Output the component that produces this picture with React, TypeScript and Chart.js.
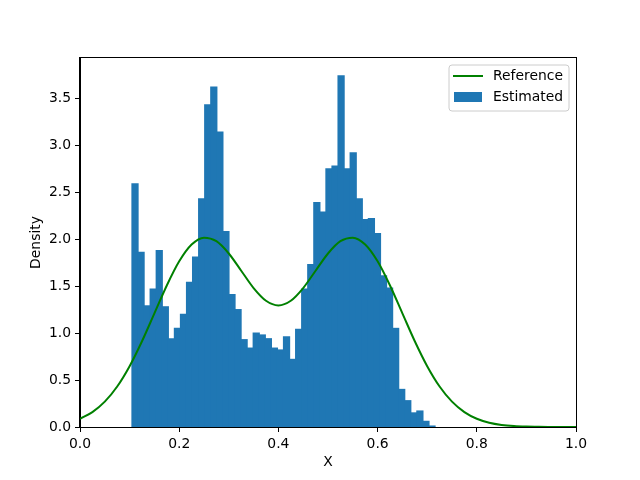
import React, { useEffect, useRef } from "react";
import { Chart, registerables } from "chart.js";

Chart.register(...registerables);

// Histogram bins (50 equal-width bins)
const binStart = 0.1048;
const binWidth = 0.01222;
const densityValues = [
  2.59, 1.86, 1.29, 1.47, 1.88, 1.28, 0.94, 1.05, 1.2, 1.54,
  1.81, 2.43, 3.43, 3.62, 3.14, 2.08, 1.41, 1.25, 0.93, 0.84,
  1.0, 0.98, 0.94, 0.84, 0.82, 0.96, 0.72, 1.04, 1.47, 1.73,
  2.39, 2.29, 2.75, 2.78, 3.74, 2.75, 2.92, 2.43, 2.21, 2.22,
  2.06, 1.61, 1.48, 1.05, 0.4, 0.28, 0.15, 0.17, 0.06, 0.01,
];

// Reference density curve samples
const refX = [
  0.0, 0.025, 0.05, 0.075, 0.1, 0.125, 0.15, 0.175, 0.2, 0.225,
  0.25, 0.275, 0.3, 0.325, 0.35, 0.375, 0.4, 0.425, 0.45, 0.475,
  0.5, 0.525, 0.55, 0.575, 0.6, 0.625, 0.65, 0.675, 0.7, 0.725,
  0.75, 0.775, 0.8, 0.825, 0.85, 0.875, 0.9, 0.925, 0.95, 0.975, 1.0,
];
const refY = [
  0.0876, 0.1587, 0.27, 0.4314, 0.6477, 0.9135, 1.2105, 1.5075, 1.7647, 1.9435,
  2.0169, 1.9788, 1.848, 1.6644, 1.4798, 1.3446, 1.2952, 1.3446, 1.4798, 1.6644,
  1.848, 1.9788, 2.0169, 1.9435, 1.7647, 1.5075, 1.2105, 0.9135, 0.6477, 0.4314,
  0.27, 0.1587, 0.0876, 0.0455, 0.0222, 0.0101, 0.0044, 0.0018, 0.0007, 0.0002, 0.0001,
];

const xTickStep = 0.2;
const yTickStep = 0.5;

const FONT = "DejaVu Sans";
const FS = 13.9;

const decorPlugin = {
  id: "decor",
  afterDraw(chart: any) {
    const { ctx, chartArea } = chart;
    const { left, right, top, bottom } = chartArea;
    ctx.save();
    // frame
    ctx.strokeStyle = "#000";
    ctx.lineWidth = 1;
    ctx.strokeRect(Math.round(left) - 0.5, Math.round(top) - 0.5, Math.round(right - left) + 1, Math.round(bottom - top) + 1);
    // axis titles
    ctx.fillStyle = "#000";
    ctx.font = `${FS}px "${FONT}"`;
    ctx.textAlign = "center";
    ctx.textBaseline = "middle";
    ctx.fillText("X", (left + right) / 2, 462);
    ctx.save();
    ctx.translate(36, (top + bottom) / 2);
    ctx.rotate(-Math.PI / 2);
    ctx.fillText("Density", 0, 0);
    ctx.restore();
    // legend
    const bx = 449, by = 65, bw = 120, bh = 46, r = 3;
    ctx.beginPath();
    ctx.moveTo(bx + r, by);
    ctx.lineTo(bx + bw - r, by);
    ctx.quadraticCurveTo(bx + bw, by, bx + bw, by + r);
    ctx.lineTo(bx + bw, by + bh - r);
    ctx.quadraticCurveTo(bx + bw, by + bh, bx + bw - r, by + bh);
    ctx.lineTo(bx + r, by + bh);
    ctx.quadraticCurveTo(bx, by + bh, bx, by + bh - r);
    ctx.lineTo(bx, by + r);
    ctx.quadraticCurveTo(bx, by, bx + r, by);
    ctx.closePath();
    ctx.fillStyle = "rgba(255,255,255,0.8)";
    ctx.fill();
    ctx.strokeStyle = "#cccccc";
    ctx.lineWidth = 1;
    ctx.stroke();
    ctx.strokeStyle = "#008000";
    ctx.lineWidth = 2;
    ctx.beginPath();
    ctx.moveTo(453, 76);
    ctx.lineTo(483, 76);
    ctx.stroke();
    ctx.fillStyle = "#1f77b4";
    ctx.fillRect(454, 92, 28, 10);
    ctx.fillStyle = "#000";
    ctx.textAlign = "left";
    ctx.fillText("Reference", 493, 76);
    ctx.fillText("Estimated", 493, 97);
    ctx.restore();
  },
};

export default function App() {
  const ref = useRef<HTMLCanvasElement | null>(null);
  useEffect(() => {
    if (!ref.current) return;
    const barData = densityValues.map((y, i) => ({ x: binStart + binWidth * (i + 0.5), y }));
    const lineData = refX.map((x, i) => ({ x, y: refY[i] }));
    const chart = new Chart(ref.current, {
      type: "bar",
      data: {
        datasets: [
          {
            type: "line",
            label: "Reference",
            data: lineData,
            borderColor: "#008000",
            borderWidth: 2,
            pointRadius: 0,
            cubicInterpolationMode: "monotone",
            fill: false,
            order: 0,
          } as any,
          {
            type: "bar",
            label: "Estimated",
            data: barData,
            backgroundColor: "#1f77b4",
            borderWidth: 0,
            inflateAmount: 0.6,
            barPercentage: 1,
            categoryPercentage: 1,
            order: 1,
          } as any,
        ],
      },
      options: {
        animation: false,
        responsive: false,
        maintainAspectRatio: false,
        layout: { padding: { top: 58, right: 64, left: 0, bottom: 0 } },
        plugins: { legend: { display: false }, tooltip: { enabled: false } },
        scales: {
          x: {
            type: "linear",
            min: 0,
            max: 1,
            offset: false,
            grid: { offset: false, drawOnChartArea: false, drawTicks: true, tickLength: 5, color: "#000" },
            border: { display: true, color: "#000" },
            ticks: {
              stepSize: xTickStep,
              color: "#000",
              padding: 4,
              maxRotation: 0,
              font: { family: FONT, size: FS },
              callback: (v: any) => Number(v).toFixed(1),
            },
            afterBuildTicks: (scale: any) => {
              scale.ticks = scale.ticks.filter((t: any) => Math.abs(t.value / xTickStep - Math.round(t.value / xTickStep)) < 1e-6);
            },
            afterFit: (scale: any) => {
              scale.height = 53;
            },
          },
          y: {
            type: "linear",
            min: 0,
            max: 3.93,
            grid: { drawOnChartArea: false, drawTicks: true, tickLength: 5, color: "#000" },
            border: { display: true, color: "#000" },
            ticks: {
              stepSize: yTickStep,
              color: "#000",
              padding: 4,
              font: { family: FONT, size: FS },
              callback: (v: any) => Number(v).toFixed(1),
            },
            afterBuildTicks: (scale: any) => {
              scale.ticks = scale.ticks.filter((t: any) => Math.abs(t.value / yTickStep - Math.round(t.value / yTickStep)) < 1e-6);
            },
            afterFit: (scale: any) => {
              scale.width = 80;
            },
          },
        },
      },
      plugins: [decorPlugin],
    });
    return () => chart.destroy();
  }, []);
  return (
    <div style={{ position: "absolute", left: 0, top: 0, width: 640, height: 480, background: "#fff" }}>
      <canvas ref={ref} width={640} height={480} />
    </div>
  );
}
